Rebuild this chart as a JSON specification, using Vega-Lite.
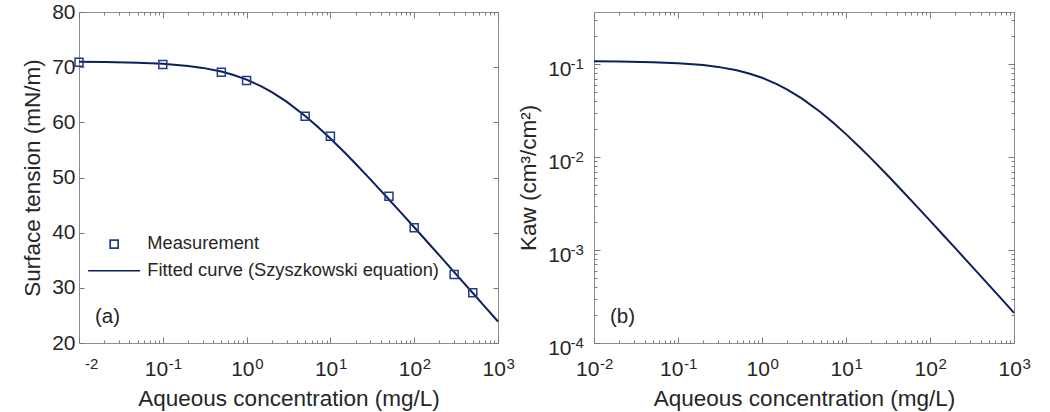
{
  "$schema": "https://vega.github.io/schema/vega-lite/v6.json",
  "padding": {"left": 21, "top": 0, "right": 0, "bottom": 0},
  "bounds": "flush",
  "spacing": 96,
  "config": {
    "font": "Liberation Sans",
    "view": {"stroke": "#8c8c8c", "strokeWidth": 1},
    "axis": {
      "domain": false, "grid": false,
      "labelFont": "Liberation Sans", "titleFont": "Liberation Sans",
      "labelColor": "#262626", "titleColor": "#262626",
      "labelFontSize": 21, "titleFontSize": 22.5, "titleFontWeight": "normal",
      "tickColor": "#7a7a7a", "tickWidth": 1,
      "labelOverlap": false, "labelFlush": false, "labelBound": false, "labelLimit": 400
    }
  },
  "datasets": {
    "curveA": [
      {"c": 0.01, "st": 70.96}, {"c": 0.02, "st": 70.92}, {"c": 0.05, "st": 70.80}, {"c": 0.1, "st": 70.60},
      {"c": 0.2, "st": 70.23}, {"c": 0.3, "st": 69.87}, {"c": 0.5, "st": 69.20}, {"c": 0.7, "st": 68.58},
      {"c": 1, "st": 67.74}, {"c": 1.5, "st": 66.53}, {"c": 2, "st": 65.48}, {"c": 3, "st": 63.75},
      {"c": 5, "st": 61.16}, {"c": 7, "st": 59.24}, {"c": 10, "st": 57.06}, {"c": 15, "st": 54.43},
      {"c": 20, "st": 52.48}, {"c": 30, "st": 49.66}, {"c": 50, "st": 46.02}, {"c": 70, "st": 43.59},
      {"c": 100, "st": 40.98}, {"c": 150, "st": 37.99}, {"c": 200, "st": 35.87}, {"c": 300, "st": 32.86},
      {"c": 500, "st": 29.06}, {"c": 700, "st": 26.56}, {"c": 1000, "st": 23.90}
    ],
    "meas": [
      {"c": 0.01, "st": 70.9, "series": "Measurement"}, {"c": 0.1, "st": 70.5, "series": "Measurement"},
      {"c": 0.5, "st": 69.1, "series": "Measurement"}, {"c": 1, "st": 67.6, "series": "Measurement"},
      {"c": 5, "st": 61.1, "series": "Measurement"}, {"c": 10, "st": 57.5, "series": "Measurement"},
      {"c": 50, "st": 46.6, "series": "Measurement"}, {"c": 100, "st": 40.9, "series": "Measurement"},
      {"c": 300, "st": 32.4, "series": "Measurement"}, {"c": 500, "st": 29.1, "series": "Measurement"}
    ],
    "curveB": [
      {"c": 0.01, "kaw": 0.10745}, {"c": 0.02, "kaw": 0.10691}, {"c": 0.05, "kaw": 0.10531}, {"c": 0.1, "kaw": 0.10276},
      {"c": 0.2, "kaw": 0.09800}, {"c": 0.3, "kaw": 0.09366}, {"c": 0.5, "kaw": 0.08605}, {"c": 0.7, "kaw": 0.07958},
      {"c": 1, "kaw": 0.07151}, {"c": 1.5, "kaw": 0.06118}, {"c": 2, "kaw": 0.05345}, {"c": 3, "kaw": 0.04268},
      {"c": 5, "kaw": 0.03041}, {"c": 7, "kaw": 0.02362}, {"c": 10, "kaw": 0.01770}, {"c": 15, "kaw": 0.01248},
      {"c": 20, "kaw": 0.00964}, {"c": 30, "kaw": 0.00662}, {"c": 50, "kaw": 0.00407}, {"c": 70, "kaw": 0.00294},
      {"c": 100, "kaw": 0.002076}, {"c": 150, "kaw": 0.001393}, {"c": 200, "kaw": 0.001048}, {"c": 300, "kaw": 0.000701},
      {"c": 500, "kaw": 0.000422}, {"c": 700, "kaw": 0.000302}, {"c": 1000, "kaw": 0.000211}
    ]
  },
  "hconcat": [
    {
      "width": 419,
      "height": 331,
      "layer": [
        {
          "data": {"name": "curveA"},
          "mark": {"type": "line", "color": "#0d1f5c", "strokeWidth": 2},
          "encoding": {
            "x": {
              "field": "c", "type": "quantitative",
              "scale": {"type": "log", "domain": [0.01, 1000], "nice": false},
              "axis": {
                "orient": "bottom",
                "values": [0.01,0.02,0.03,0.04,0.05,0.06,0.07,0.08,0.09,0.1,0.2,0.3,0.4,0.5,0.6,0.7,0.8,0.9,1,2,3,4,5,6,7,8,9,10,20,30,40,50,60,70,80,90,100,200,300,400,500,600,700,800,900,1000],
                "labelExpr": "indexof([0.1,1,10,100,1000], datum.value) >= 0 ? '10' : ''",
                "labelBaseline": "alphabetic",
                "labelPadding": 38.3,
                "labelOffset": {"condition": {"test": "datum.value < 1", "value": -6.8}, "value": -4.3},
                "tickSize": {"condition": {"test": "indexof([0.01,0.1,1,10,100,1000], datum.value) >= 0", "value": -6}, "value": -3},
                "title": "Aqueous concentration (mg/L)",
                "titlePadding": 5
              }
            },
            "y": {
              "field": "st", "type": "quantitative",
              "scale": {"domain": [20, 80], "nice": false},
              "axis": {
                "orient": "left",
                "values": [20, 30, 40, 50, 60, 70, 80],
                "tickSize": -5,
                "labelPadding": 9,
                "title": "Surface tension (mN/m)",
                "titlePadding": 7
              }
            }
          }
        },
        {
          "data": {"name": "meas"},
          "mark": {"type": "point", "filled": false, "size": 64, "strokeWidth": 1.5, "opacity": 1},
          "encoding": {
            "x": {
              "field": "c", "type": "quantitative",
              "scale": {"type": "log"},
              "axis": {
                "orient": "bottom",
                "values": [0.01, 0.1, 1, 10, 100, 1000],
                "ticks": false,
                "labelExpr": "datum.value == 0.01 ? '-2' : datum.value == 0.1 ? '-1' : datum.value == 1 ? '0' : datum.value == 10 ? '1' : datum.value == 100 ? '2' : '3'",
                "labelFontSize": 15,
                "labelBaseline": "alphabetic",
                "labelPadding": 25.7,
                "labelOffset": 12.2,
                "title": null
              }
            },
            "y": {
              "field": "st", "type": "quantitative",
              "axis": {"orient": "right", "values": [20, 30, 40, 50, 60, 70, 80], "tickSize": -5, "labels": false, "title": null}
            },
            "color": {
              "field": "series", "type": "nominal",
              "scale": {"domain": ["Measurement", "Fitted curve (Szyszkowski equation)"], "range": ["#203c88", "#0d1f5c"]},
              "legend": {
                "orient": "none", "legendX": 26, "legendY": 223, "title": null, "padding": 0,
                "labelFont": "Liberation Sans", "labelFontSize": 18.3, "labelColor": "#262626", "labelLimit": 500,
                "symbolSize": 64, "symbolStrokeWidth": 1.7, "labelOffset": 24, "rowPadding": 7.6
              }
            },
            "shape": {
              "field": "series", "type": "nominal",
              "scale": {"domain": ["Measurement", "Fitted curve (Szyszkowski equation)"], "range": ["square", "M-6.5,0H6.5"]},
              "legend": {
                "orient": "none", "legendX": 26, "legendY": 223, "title": null, "padding": 0,
                "labelFont": "Liberation Sans", "labelFontSize": 18.3, "labelColor": "#262626", "labelLimit": 500,
                "symbolSize": 64, "symbolStrokeWidth": 1.7, "labelOffset": 24, "rowPadding": 7.6
              }
            }
          }
        },
        {
          "data": {"values": [{"label": "(a)"}]},
          "mark": {"type": "text", "align": "left", "baseline": "middle", "fontSize": 20.5, "color": "#262626", "font": "Liberation Sans"},
          "encoding": {
            "x": {
              "datum": 0.0155, "type": "quantitative",
              "scale": {"type": "log"},
              "axis": {
                "orient": "top",
                "values": [0.01,0.02,0.03,0.04,0.05,0.06,0.07,0.08,0.09,0.1,0.2,0.3,0.4,0.5,0.6,0.7,0.8,0.9,1,2,3,4,5,6,7,8,9,10,20,30,40,50,60,70,80,90,100,200,300,400,500,600,700,800,900,1000],
                "labels": false,
                "tickSize": {"condition": {"test": "indexof([0.01,0.1,1,10,100,1000], datum.value) >= 0", "value": -6}, "value": -3},
                "title": null
              }
            },
            "y": {"datum": 24.7, "type": "quantitative", "axis": null},
            "text": {"field": "label"}
          }
        }
      ],
      "resolve": {"axis": {"x": "independent", "y": "independent"}}
    },
    {
      "width": 420,
      "height": 331,
      "layer": [
        {
          "data": {"name": "curveB"},
          "mark": {"type": "line", "color": "#0d1f5c", "strokeWidth": 2},
          "encoding": {
            "x": {
              "field": "c", "type": "quantitative",
              "scale": {"type": "log", "domain": [0.01, 1000], "nice": false},
              "axis": {
                "orient": "bottom",
                "values": [0.01,0.02,0.03,0.04,0.05,0.06,0.07,0.08,0.09,0.1,0.2,0.3,0.4,0.5,0.6,0.7,0.8,0.9,1,2,3,4,5,6,7,8,9,10,20,30,40,50,60,70,80,90,100,200,300,400,500,600,700,800,900,1000],
                "labelExpr": "indexof([0.01,0.1,1,10,100,1000], datum.value) >= 0 ? '10' : ''",
                "labelBaseline": "alphabetic",
                "labelPadding": 38.3,
                "labelOffset": {"condition": {"test": "datum.value < 1", "value": -6.8}, "value": -4.3},
                "tickSize": {"condition": {"test": "indexof([0.01,0.1,1,10,100,1000], datum.value) >= 0", "value": -6}, "value": -3},
                "title": "Aqueous concentration (mg/L)",
                "titlePadding": 5
              }
            },
            "y": {
              "field": "kaw", "type": "quantitative",
              "scale": {"type": "log", "domain": [0.0001, 0.365], "nice": false},
              "axis": {
                "orient": "left",
                "values": [0.0001,0.0002,0.0003,0.0004,0.0005,0.0006,0.0007,0.0008,0.0009,0.001,0.002,0.003,0.004,0.005,0.006,0.007,0.008,0.009,0.01,0.02,0.03,0.04,0.05,0.06,0.07,0.08,0.09,0.1,0.2,0.3],
                "labelExpr": "indexof([0.0001,0.001,0.01,0.1], datum.value) >= 0 ? '10' : ''",
                "tickSize": {"condition": {"test": "indexof([0.0001,0.001,0.01,0.1], datum.value) >= 0", "value": -6}, "value": -3},
                "labelPadding": 29,
                "labelBaseline": "alphabetic",
                "labelOffset": 11.3,
                "title": "Kaw (cm³/cm²)",
                "titlePadding": 7
              }
            }
          }
        },
        {
          "data": {"values": [{"label": "(b)"}]},
          "mark": {"type": "text", "align": "left", "baseline": "middle", "fontSize": 20.5, "color": "#262626", "font": "Liberation Sans"},
          "encoding": {
            "x": {
              "datum": 0.0155, "type": "quantitative",
              "scale": {"type": "log"},
              "axis": {
                "orient": "bottom",
                "values": [0.01, 0.1, 1, 10, 100, 1000],
                "ticks": false,
                "labelExpr": "datum.value == 0.01 ? '-2' : datum.value == 0.1 ? '-1' : datum.value == 1 ? '0' : datum.value == 10 ? '1' : datum.value == 100 ? '2' : '3'",
                "labelFontSize": 15,
                "labelBaseline": "alphabetic",
                "labelPadding": 25.7,
                "labelOffset": 12.2,
                "title": null
              }
            },
            "y": {
              "datum": 0.00019, "type": "quantitative",
              "scale": {"type": "log"},
              "axis": {
                "orient": "left",
                "values": [0.0001, 0.001, 0.01, 0.1],
                "ticks": false,
                "labelExpr": "datum.value == 0.0001 ? '-4' : datum.value == 0.001 ? '-3' : datum.value == 0.01 ? '-2' : '-1'",
                "labelFontSize": 15,
                "labelPadding": 10.7,
                "labelBaseline": "alphabetic",
                "labelOffset": 4.7,
                "title": null
              }
            },
            "text": {"field": "label"}
          }
        },
        {
          "data": {"name": "curveB"},
          "mark": {"type": "line", "opacity": 0},
          "encoding": {
            "x": {
              "field": "c", "type": "quantitative",
              "scale": {"type": "log"},
              "axis": {
                "orient": "top",
                "values": [0.01,0.02,0.03,0.04,0.05,0.06,0.07,0.08,0.09,0.1,0.2,0.3,0.4,0.5,0.6,0.7,0.8,0.9,1,2,3,4,5,6,7,8,9,10,20,30,40,50,60,70,80,90,100,200,300,400,500,600,700,800,900,1000],
                "labels": false,
                "tickSize": {"condition": {"test": "indexof([0.01,0.1,1,10,100,1000], datum.value) >= 0", "value": -6}, "value": -3},
                "title": null
              }
            },
            "y": {
              "field": "kaw", "type": "quantitative",
              "scale": {"type": "log"},
              "axis": {
                "orient": "right",
                "values": [0.0001,0.0002,0.0003,0.0004,0.0005,0.0006,0.0007,0.0008,0.0009,0.001,0.002,0.003,0.004,0.005,0.006,0.007,0.008,0.009,0.01,0.02,0.03,0.04,0.05,0.06,0.07,0.08,0.09,0.1,0.2,0.3],
                "labels": false,
                "tickSize": {"condition": {"test": "indexof([0.0001,0.001,0.01,0.1], datum.value) >= 0", "value": -6}, "value": -3},
                "title": null
              }
            }
          }
        }
      ],
      "resolve": {"axis": {"x": "independent", "y": "independent"}}
    }
  ]
}
